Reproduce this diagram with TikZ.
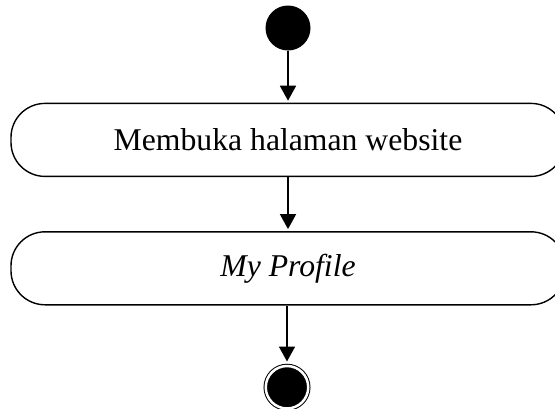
\documentclass[tikz,border=0pt]{standalone}
\usepackage{fontspec}
\setmainfont{Liberation Serif}
\usetikzlibrary{arrows.meta, positioning}
\tikzstyle{initial} = [circle, fill=black, minimum size=45pt, inner sep=0pt]
\tikzstyle{final} = [circle, draw=black, fill=black, double=white, double distance=2.5pt, line width=1pt, minimum size=42.5pt, inner sep=0pt]
\tikzstyle{activity} = [rectangle, rounded corners=34pt, minimum width=554pt, minimum height=73pt, text centered, draw=black, line width=1.4pt, font=\fontsize{31.7}{38}\selectfont]
\tikzstyle{arrow} = [line width=1.8pt, -{Triangle[width=16pt,length=15pt]}, shorten >=2pt]

\begin{document}
\begin{tikzpicture}[x=1pt, y=-1pt]
			\useasboundingbox (0,0) rectangle (555,408);
			
			\node (start) [initial] at (288,28) {};
			
			\node (open_site) [activity, below=52pt of start] {Membuka halaman website};
			
			\node (my_profile) [activity, below=54pt of open_site] {\textit{My Profile}};
			
			\node (finish) [final, below=60pt of my_profile, xshift=-1pt] {};
			
			
			\draw [arrow] (start) -- (open_site);
			\draw [arrow] (open_site) -- (my_profile);
			\draw [arrow, shorten >=4pt] (my_profile.south -| finish) -- (finish);
			
		\end{tikzpicture}
\end{document}
